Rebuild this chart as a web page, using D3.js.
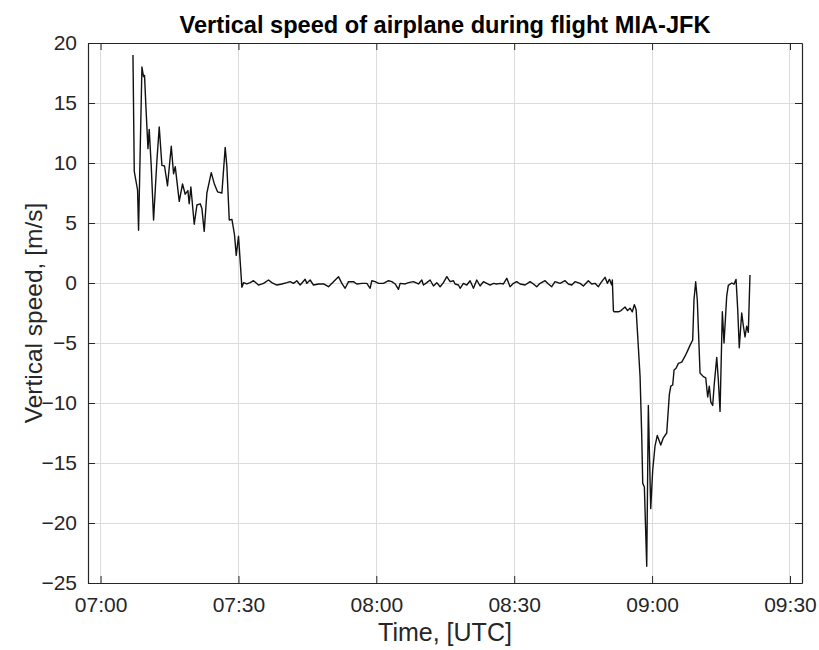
<!DOCTYPE html>
<html>
<head>
<meta charset="utf-8">
<script src="https://cdn.jsdelivr.net/npm/d3@7"></script>
<style>
  html, body { margin: 0; padding: 0; background: #fff; }
  svg { display: block; font-family: "Liberation Sans", Arial, Helvetica, sans-serif; }
</style>
</head>
<body>
<svg id="chart" width="819" height="650"></svg>
<script>
// Flight MIA-JFK, vertical speed samples (UTC time, m/s)
const climbTimes = ["07:07:03","07:07:20","07:08:03","07:08:16","07:09:00","07:09:21","07:09:34","07:09:52","07:10:19","07:10:35",
  "07:11:02","07:11:32","07:12:16","07:12:46","07:13:21","07:13:55","07:14:34","07:15:23","07:15:53","07:16:15",
  "07:17:07","07:17:50","07:18:25","07:19:00","07:19:17","07:19:39","07:20:23","07:20:58","07:21:41","07:22:03",
  "07:22:33","07:23:08","07:24:05","07:24:48","07:25:27","07:26:24","07:27:07","07:27:29","07:28:00","07:28:35",
  "07:29:09","07:29:31","07:30:01","07:30:45"];
const climbSpeeds = [19.0, 9.3, 7.75, 4.4, 18.0, 17.2, 17.3, 14.7, 11.2, 12.8,
  9.7, 5.25, 10.25, 13.0, 9.8, 9.75, 8.1, 11.4, 9.1, 9.7,
  6.8, 8.25, 7.4, 7.7, 6.6, 8.0, 4.9, 6.5, 6.6, 6.2,
  4.3, 7.5, 9.2, 8.2, 7.6, 7.5, 11.3, 9.7, 5.25, 5.3,
  4.0, 2.3, 3.9, -0.35];

const cruiseTimes = ["07:31:07","07:31:50","07:32:33","07:33:17","07:34:22","07:35:27","07:36:33","07:37:16","07:38:21","07:39:27",
  "07:40:32","07:41:15","07:41:59","07:42:42","07:43:26","07:44:31","07:44:53","07:45:36","07:46:20","07:47:25",
  "07:48:31","07:49:36","07:50:41","07:51:46","07:52:30","07:53:13","07:53:57","07:55:02","07:55:45","07:56:51",
  "07:57:56","07:58:39","07:59:01","07:59:45","08:00:28","08:01:33","08:02:39","08:03:22","08:04:06","08:04:49",
  "08:05:11","08:06:16","08:07:00","08:08:05","08:09:10","08:09:54","08:10:15","08:10:59","08:11:42","08:12:26",
  "08:13:09","08:13:53","08:14:36","08:15:20","08:16:03","08:16:47","08:17:08","08:17:52","08:18:14","08:18:57",
  "08:19:41","08:20:24","08:21:08","08:21:51","08:22:35","08:23:18","08:24:02","08:24:45","08:25:29","08:26:12",
  "08:26:56","08:27:39","08:28:23","08:29:06","08:29:50","08:30:33","08:31:17","08:32:22","08:33:27","08:34:11",
  "08:34:54","08:35:38","08:36:43","08:37:26","08:38:10","08:38:53","08:39:59","08:41:04","08:41:47","08:42:31",
  "08:43:14","08:44:20","08:45:03","08:46:08","08:46:52","08:47:35","08:48:19","08:49:02","08:49:46","08:50:16",
  "08:50:43","08:51:13","08:51:21"];
const cruiseSpeeds = [0.03, -0.08, 0.03, 0.19, -0.17, -0.03, 0.25, 0.03, -0.17, -0.08,
  0.03, 0.11, -0.03, 0.19, -0.17, 0.31, -0.03, 0.25, -0.17, -0.08,
  -0.08, -0.31, 0.11, 0.53, -0.03, -0.44, 0.11, 0.11, -0.08, -0.03,
  -0.03, -0.44, 0.19, 0.11, -0.03, -0.03, 0.19, 0.11, -0.08, -0.53,
  -0.03, -0.08, 0.03, 0.11, -0.08, 0.25, -0.17, 0.03, 0.25, -0.25,
  0.03, -0.31, 0.03, 0.53, 0.11, 0.19, -0.08, -0.17, -0.44, -0.03,
  -0.17, 0.19, -0.44, 0.25, -0.25, 0.11, -0.03, -0.17, -0.03, -0.08,
  -0.03, -0.08, 0.39, -0.31, -0.03, 0.11, -0.08, -0.17, 0.11, -0.08,
  -0.31, -0.03, 0.19, -0.08, -0.31, 0.11, -0.03, 0.19, -0.08, -0.17,
  0.11, -0.03, -0.25, 0.19, -0.08, -0.03, -0.31, 0.11, 0.47, -0.03,
  0.31, -0.17, 0.25];

const descentTimes = ["08:51:35","08:51:43","08:52:40","08:53:15","08:54:07","08:54:40","08:55:12","08:55:42","08:56:08","08:56:31",
  "08:56:53","08:57:23","08:57:45","08:57:58","08:58:19","08:58:50","08:59:11","08:59:42","09:00:08","09:00:38",
  "09:01:08","09:01:53","09:02:27","09:03:11","09:03:45","09:04:04","09:04:29","09:04:47","09:05:13","09:05:43",
  "09:06:27","09:07:10","09:07:40","09:08:15","09:08:50","09:09:07","09:09:29","09:09:50","09:10:26","09:11:09",
  "09:11:40","09:12:06","09:12:27","09:12:46","09:13:11","09:13:32","09:14:04","09:14:25","09:14:47","09:15:17",
  "09:15:39","09:16:14","09:16:35","09:17:19","09:17:49","09:18:16","09:18:38","09:18:58","09:19:30","09:19:50",
  "09:20:13","09:20:35","09:20:56","09:21:18"];
const descentSpeeds = [-2.3, -2.4, -2.4, -2.3, -2.0, -2.3, -2.1, -2.4, -1.8, -2.2,
  -4.5, -7.8, -12.8, -16.7, -17.0, -23.6, -10.2, -18.8, -15.6, -13.6,
  -12.7, -13.5, -12.9, -12.5, -9.3, -8.6, -8.5, -7.25, -7.1, -6.7,
  -6.6, -6.1, -5.7, -5.2, -4.75, -1.4, 0.1, -1.4, -7.5, -7.8,
  -7.9, -9.5, -8.6, -9.9, -10.2, -8.4, -6.2, -8.1, -10.7, -2.4,
  -5.0, -1.1, -0.2, 0.0, -0.1, 0.3, -2.25, -5.4, -2.5, -3.5,
  -4.5, -3.6, -4.1, 0.67];

const xTickLabels = ["07:00", "07:30", "08:00", "08:30", "09:00", "09:30"];
const yTickValues = [20, 15, 10, 5, 0, -5, -10, -15, -20, -25];
const xLimits = ["06:57:16", "09:32:37"];
const yLimits = [-25, 20];

const titleText = "Vertical speed of airplane during flight MIA-JFK";
const xLabelText = "Time, [UTC]";
const yLabelText = "Vertical speed, [m/s]";

const parseTime = d3.utcParse("%H:%M:%S");
const parseTick = d3.utcParse("%H:%M");

const times = climbTimes.concat(cruiseTimes, descentTimes).map(parseTime);
const speeds = climbSpeeds.concat(cruiseSpeeds, descentSpeeds);
const samples = times.map((t, i) => ({ t, v: speeds[i] }));

const svg = d3.select("#chart");
const margin = { left: 88, top: 43, right: 17, bottom: 67 };
const W = 819 - margin.left - margin.right;
const H = 650 - margin.top - margin.bottom;
const axisColor = "#262626";

const x = d3.scaleUtc().domain(xLimits.map(parseTime)).range([0, W]);
const y = d3.scaleLinear().domain(yLimits).range([H, 0]);
const xTicks = xTickLabels.map(parseTick);

const g = svg.append("g").attr("transform", `translate(${margin.left},${margin.top})`);

// grid
g.append("g").selectAll("line").data(xTicks).join("line")
  .attr("x1", d => x(d)).attr("x2", d => x(d)).attr("y1", 0).attr("y2", H)
  .attr("stroke", "#dcdcdc").attr("stroke-width", 1).attr("shape-rendering", "crispEdges");
g.append("g").selectAll("line").data(yTickValues).join("line")
  .attr("x1", 0).attr("x2", W).attr("y1", d => y(d)).attr("y2", d => y(d))
  .attr("stroke", "#dcdcdc").attr("stroke-width", 1).attr("shape-rendering", "crispEdges");

// data line
const line = d3.line().x(d => x(d.t)).y(d => y(d.v));
g.append("path").datum(samples)
  .attr("d", line).attr("fill", "none")
  .attr("stroke", "#111").attr("stroke-width", 1.4).attr("stroke-linejoin", "round");

// axes with inward ticks on all sides
const tickLen = 7;
const xBottom = d3.axisBottom(x).tickValues(xTicks).tickFormat(d3.utcFormat("%H:%M"))
  .tickSizeInner(-tickLen).tickSizeOuter(0).tickPadding(14);
const xTop = d3.axisTop(x).tickValues(xTicks).tickFormat("").tickSizeInner(-tickLen).tickSizeOuter(0);
const yLeft = d3.axisLeft(y).tickValues(yTickValues).tickFormat(d3.format("d"))
  .tickSizeInner(-tickLen).tickSizeOuter(0).tickPadding(11);
const yRight = d3.axisRight(y).tickValues(yTickValues).tickFormat("").tickSizeInner(-tickLen).tickSizeOuter(0);

function style(sel) {
  sel.select(".domain").attr("stroke", axisColor).attr("stroke-width", 1.2);
  sel.selectAll(".tick line").attr("stroke", axisColor).attr("stroke-width", 1);
  sel.selectAll(".tick text").attr("fill", axisColor).style("font-size", "21px")
    .style("font-family", '"Liberation Sans", Arial, sans-serif');
}
g.append("g").attr("transform", `translate(0,${H})`).call(xBottom).call(style);
g.append("g").call(xTop).call(style);
g.append("g").call(yLeft).call(style);
g.append("g").attr("transform", `translate(${W},0)`).call(yRight).call(style);

// titles
svg.append("text").attr("x", margin.left + W / 2).attr("y", 33)
  .attr("text-anchor", "middle").attr("fill", "#000")
  .style("font-size", "23.6px").style("font-weight", "bold").text(titleText);
svg.append("text").attr("x", margin.left + W / 2).attr("y", 641)
  .attr("text-anchor", "middle").attr("fill", axisColor)
  .style("font-size", "25px").text(xLabelText);
svg.append("text").attr("transform", `translate(42,${margin.top + H / 2}) rotate(-90)`)
  .attr("text-anchor", "middle").attr("fill", axisColor)
  .style("font-size", "24.5px").text(yLabelText);
</script>
</body>
</html>
